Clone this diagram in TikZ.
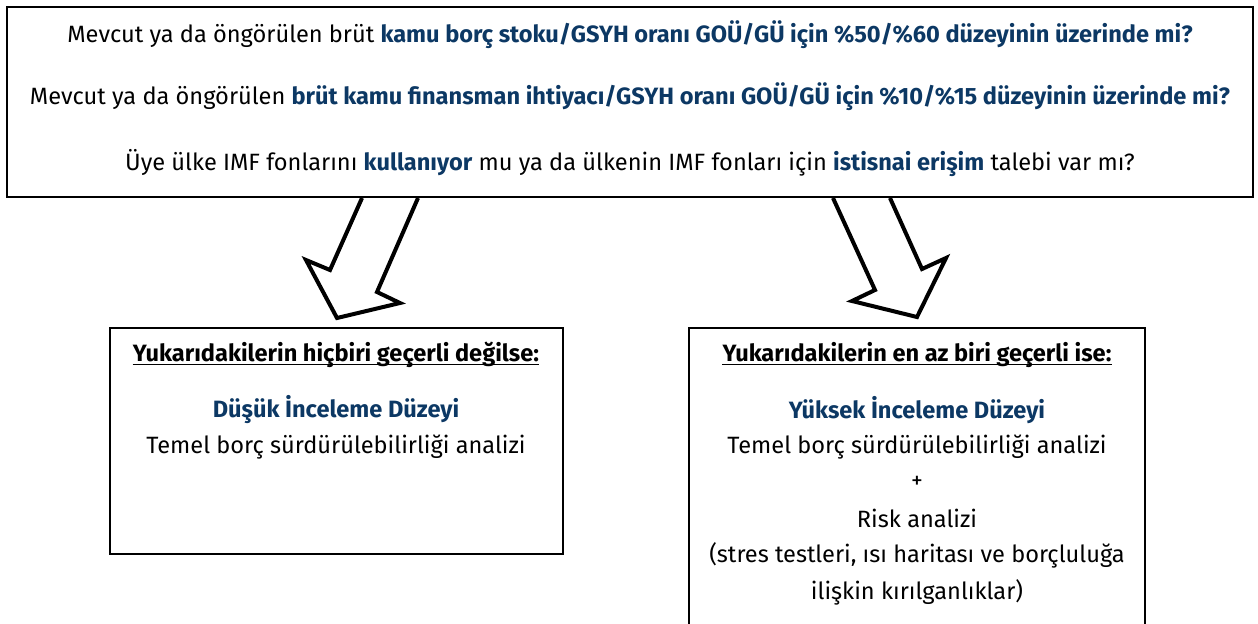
\documentclass[tikz,border=0pt]{standalone}
\usepackage{fontspec}
\setmainfont{Fira Sans}
\definecolor{lacivert}{RGB}{12,56,100}
\newcommand{\vurgu}[1]{\textcolor{lacivert}{\textbf{#1}}}
\tikzset{
  yazi/.style={font=\fontsize{11.8}{14}\selectfont, inner sep=0pt, anchor=center},
  blokok/.style={draw, line width=2pt, line join=miter, fill=white},
  altcizgi/.style={line width=0.6pt},
}
\begin{document}
\begin{tikzpicture}[x=0.5pt,y=-0.5pt]
  \useasboundingbox (0,0) rectangle (1258,623);
  % ust kutu
  \draw[line width=0.8pt] (7,7) rectangle (1253,197);
  \node[yazi] (s1) at (630,35) {Mevcut ya da öngörülen brüt \vurgu{kamu borç stoku/GSYH oranı GOÜ/GÜ için \%50/\%60 düzeyinin üzerinde mi?}};
  \node[yazi] (s2) at (630,97) {Mevcut ya da öngörülen \vurgu{brüt kamu finansman ihtiyacı/GSYH oranı GOÜ/GÜ için \%10/\%15 düzeyinin üzerinde mi?}};
  \node[yazi] (s3) at (630,163) {Üye ülke IMF fonlarını \vurgu{kullanıyor} mu ya da ülkenin IMF fonları için \vurgu{istisnai erişim} talebi var mı?};
  % oklar
  \draw[blokok] (362,198) -- (330,270) -- (306,260) -- (337,318) -- (400,303) -- (377,292) -- (418,198);
  \draw[blokok] (833,198) -- (875,290) -- (852,301) -- (917,317) -- (946,258) -- (922,269) -- (890,198);
  % sol kutu
  \draw[line width=0.8pt] (110,328) rectangle (563,554);
  \node[yazi] (solbaslik) at (336,355) {\textbf{Yukarıdakilerin hiçbiri geçerli değilse:}};
  \draw[altcizgi] ([yshift=-1.6pt]solbaslik.base west) -- ([yshift=-1.6pt]solbaslik.base east);
  \node[yazi] (dusuk) at (336,410) {\vurgu{Düşük İnceleme Düzeyi}};
  \node[yazi] (soltemel) at (336,447) {Temel borç sürdürülebilirliği analizi};
  % sag kutu
  \draw[line width=0.8pt] (689,630) -- (689,328) -- (1145,328) -- (1145,630);
  \node[yazi] (sagbaslik) at (917,355) {\textbf{Yukarıdakilerin en az biri geçerli ise:}};
  \draw[altcizgi] ([yshift=-1.6pt]sagbaslik.base west) -- ([yshift=-1.6pt]sagbaslik.base east);
  \node[yazi] (yuksek) at (917,410) {\vurgu{Yüksek İnceleme Düzeyi}};
  \node[yazi] (sagtemel) at (917,447) {Temel borç sürdürülebilirliği analizi};
  \node[yazi] (arti) at (917,482) {+};
  \node[yazi] (risk) at (917,518) {Risk analizi};
  \node[yazi] (stres) at (917,555) {(stres testleri, ısı haritası ve borçluluğa};
  \node[yazi] (iliskin) at (917,592) {ilişkin kırılganlıklar)};
\end{tikzpicture}
\end{document}
